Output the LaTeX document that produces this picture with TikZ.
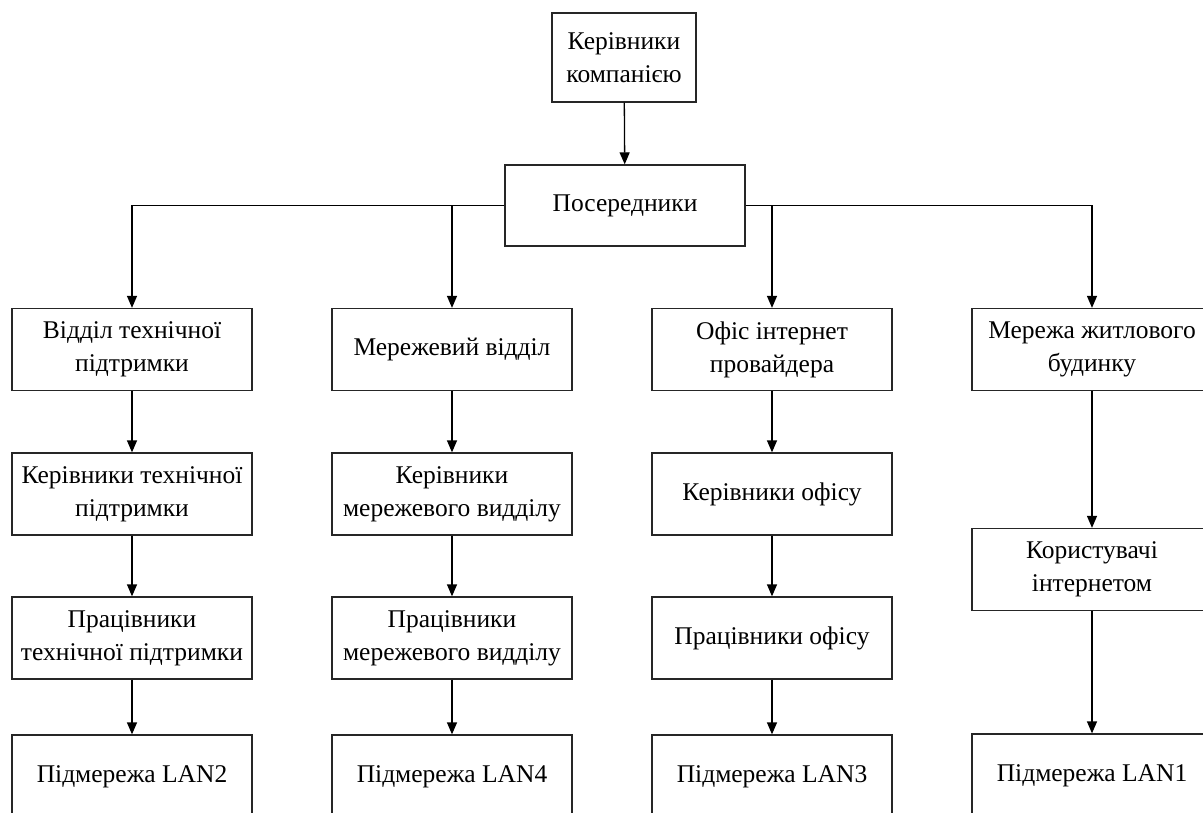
\documentclass[tikz,border=0pt]{standalone}
\usepackage{fontspec}
\setmainfont{Liberation Serif}
\usetikzlibrary{arrows.meta}
\begin{document}
\begin{tikzpicture}[x=1pt,y=-1pt,
  box/.style={draw=black!85, line width=1.3pt, fill=white, minimum width=240pt, minimum height=82pt,
    align=center, inner sep=0pt, font=\fontsize{25.5}{33}\selectfont},
  arr/.style={draw=black, line width=1.3pt, -{Triangle[width=10pt,length=12pt]}}]
\useasboundingbox (0,0) rectangle (1203,812);
\clip (0,0) rectangle (1203,812);
\fill[white] (0,0) rectangle (1203,812);
% top
\node[box, minimum width=144pt, minimum height=89pt] (top) at (624,57.5) {Керівники\\компанією};
\node[box, minimum height=81pt] (pos) at (625,205.5) {Посередники};
% column 1
\node[box] (a1) at (132,349.5) {Відділ технічної\\підтримки};
\node[box] (a2) at (132,494) {Керівники технічної\\підтримки};
\node[box] (a3) at (132,638) {Працівники\\технічної підтримки};
\node[box, minimum height=84pt] (a4) at (132,777) {Підмережа LAN2};
% column 2
\node[box] (b1) at (452,349.5) {Мережевий відділ};
\node[box] (b2) at (452,494) {Керівники\\мережевого видділу};
\node[box] (b3) at (452,638) {Працівники\\мережевого видділу};
\node[box, minimum height=84pt] (b4) at (452,777) {Підмережа LAN4};
% column 3
\node[box] (c1) at (772,349.5) {Офіс інтернет\\провайдера};
\node[box] (c2) at (772,494) {Керівники офісу};
\node[box] (c3) at (772,638) {Працівники офісу};
\node[box, minimum height=84pt] (c4) at (772,777) {Підмережа LAN3};
% column 4
\node[box] (d1) at (1092,349.5) {Мережа житлового\\будинку};
\node[box] (d2) at (1092,569.5) {Користувачі\\інтернетом};
\node[box, minimum height=84pt] (d3) at (1092,776) {Підмережа LAN1};
% connectors
\draw[arr] (top) -- (pos);
\draw[arr] (pos.west) -| (a1);
\draw[arr] (pos.west -| b1) -- (b1);
\draw[arr] (pos.east -| c1) -- (c1);
\draw[arr] (pos.east) -| (d1);
\draw[arr] (a1) -- (a2);
\draw[arr] (a2) -- (a3);
\draw[arr] (a3) -- (a4);
\draw[arr] (b1) -- (b2);
\draw[arr] (b2) -- (b3);
\draw[arr] (b3) -- (b4);
\draw[arr] (c1) -- (c2);
\draw[arr] (c2) -- (c3);
\draw[arr] (c3) -- (c4);
\draw[arr] (d1) -- (d2);
\draw[arr] (d2) -- (d3);
\end{tikzpicture}
\end{document}
